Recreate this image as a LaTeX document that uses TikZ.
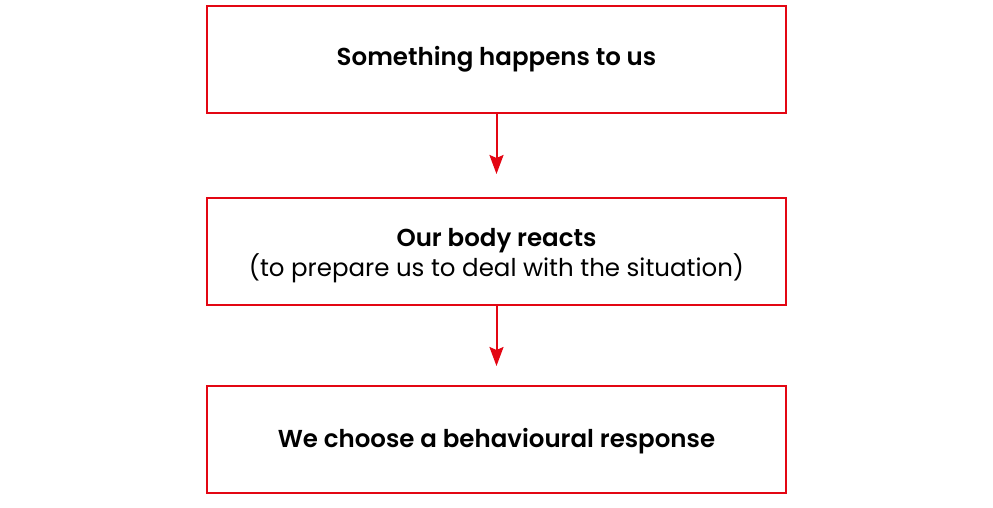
\documentclass[tikz,border=0pt]{standalone}
\usepackage{fontspec}
\setmainfont{Poppins}[BoldFont={Poppins SemiBold}]
\usetikzlibrary{arrows.meta}
\definecolor{boxred}{HTML}{E30613}
\begin{document}
\begin{tikzpicture}[x=1pt,y=-1pt,
  flowbox/.style={draw=boxred,line width=1.8pt,minimum width=579pt,minimum height=107pt,inner sep=0pt},
  flowtext/.style={align=center,inner sep=0pt,font=\fontsize{24.5}{28}\selectfont},
  flowarrow/.style={draw=boxred,line width=2pt,-{Stealth[width=14pt,length=19pt,inset=3pt]}}]
\useasboundingbox (0,0) rectangle (993,507);
\node[flowbox] (b1) at (496.5,59.5) {};
\node[flowbox] (b2) at (496.5,251.5) {};
\node[flowbox] (b3) at (496.5,439.5) {};
\node[flowtext] (t1) at ([yshift=0pt]b1.center) {\textbf{Something happens to us}};
\node[flowtext] (t2) at ([yshift=-4pt]b2.center) {\textbf{Our body reacts}\\(to prepare us to deal with the situation)};
\node[flowtext] (t3) at ([yshift=-1.5pt]b3.center) {\textbf{We choose a behavioural response}};
\coordinate (a1) at (496.5,174);
\coordinate (a2) at (496.5,366);
\draw[flowarrow] (b1.south) -- (a1);
\draw[flowarrow] (b2.south) -- (a2);
\end{tikzpicture}
\end{document}
